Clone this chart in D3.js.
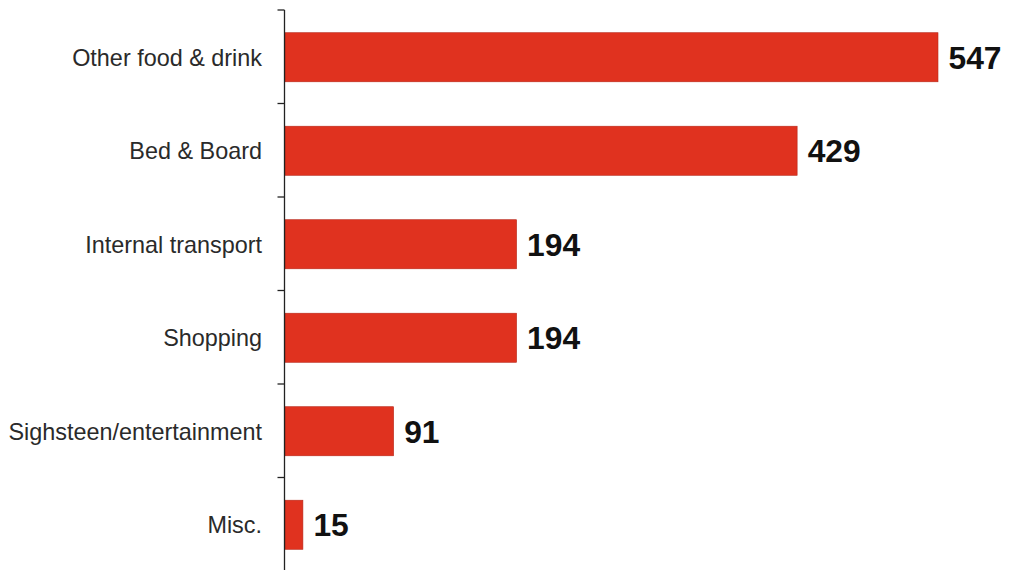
<!DOCTYPE html>
<html>
<head>
<meta charset="utf-8">
<script src="https://cdn.jsdelivr.net/npm/d3@7"></script>
<style>
  html, body { margin: 0; padding: 0; background: #fff; }
  svg { display: block; }
</style>
</head>
<body>
<svg id="chart" width="1009" height="570"></svg>
<script>
// Spending by category
const categories = ["Other food & drink", "Bed & Board", "Internal transport", "Shopping", "Sighsteen/entertainment", "Misc."];
const values = [547, 429, 194, 194, 91, 15];

const svg = d3.select("#chart");
const axisX = 284.5;

const x = d3.scaleLinear()
  .domain([0, d3.max(values)])
  .range([285, 938]);

const y = d3.scaleBand()
  .domain(categories)
  .range([10, 571])
  .padding(0);

const barFrac = 0.525;
const bw = y.bandwidth();
const data = categories.map((c, i) => ({ cat: c, value: values[i] }));

// bars
svg.append("g")
  .selectAll("rect")
  .data(data)
  .join("rect")
  .attr("x", x(0))
  .attr("y", d => y(d.cat) + bw * (1 - barFrac) / 2 + 0.5)
  .attr("width", d => x(d.value) - x(0))
  .attr("height", bw * barFrac)
  .attr("fill", "#e0321f")
  .attr("stroke", "#b8281a")
  .attr("stroke-width", 0.6);

// vertical axis line with boundary ticks
const g = svg.append("g").attr("stroke", "#222").attr("stroke-width", 1.3);
g.append("line")
  .attr("x1", axisX).attr("x2", axisX)
  .attr("y1", y.range()[0]).attr("y2", y.range()[1]);
const bounds = categories.map(c => y(c)).concat([y.range()[1]]);
g.selectAll("line.tick")
  .data(bounds)
  .join("line")
  .attr("class", "tick")
  .attr("x1", axisX - 7).attr("x2", axisX)
  .attr("y1", d => d).attr("y2", d => d);

// category labels
svg.append("g")
  .selectAll("text")
  .data(data)
  .join("text")
  .attr("x", 262)
  .attr("y", d => y(d.cat) + bw / 2 + 1)
  .attr("text-anchor", "end")
  .attr("dominant-baseline", "central")
  .attr("font-family", "'Liberation Sans', Arial, sans-serif")
  .attr("font-size", 23.4)
  .attr("fill", "#2a2a2a")
  .text(d => d.cat);

// value labels
svg.append("g")
  .selectAll("text")
  .data(data)
  .join("text")
  .attr("x", d => x(d.value) + 10.5)
  .attr("y", d => y(d.cat) + bw / 2 + 1)
  .attr("dominant-baseline", "central")
  .attr("font-family", "'Liberation Sans', Arial, sans-serif")
  .attr("font-weight", "bold")
  .attr("font-size", 31.8)
  .attr("fill", "#111")
  .text(d => d.value);
</script>
</body>
</html>
